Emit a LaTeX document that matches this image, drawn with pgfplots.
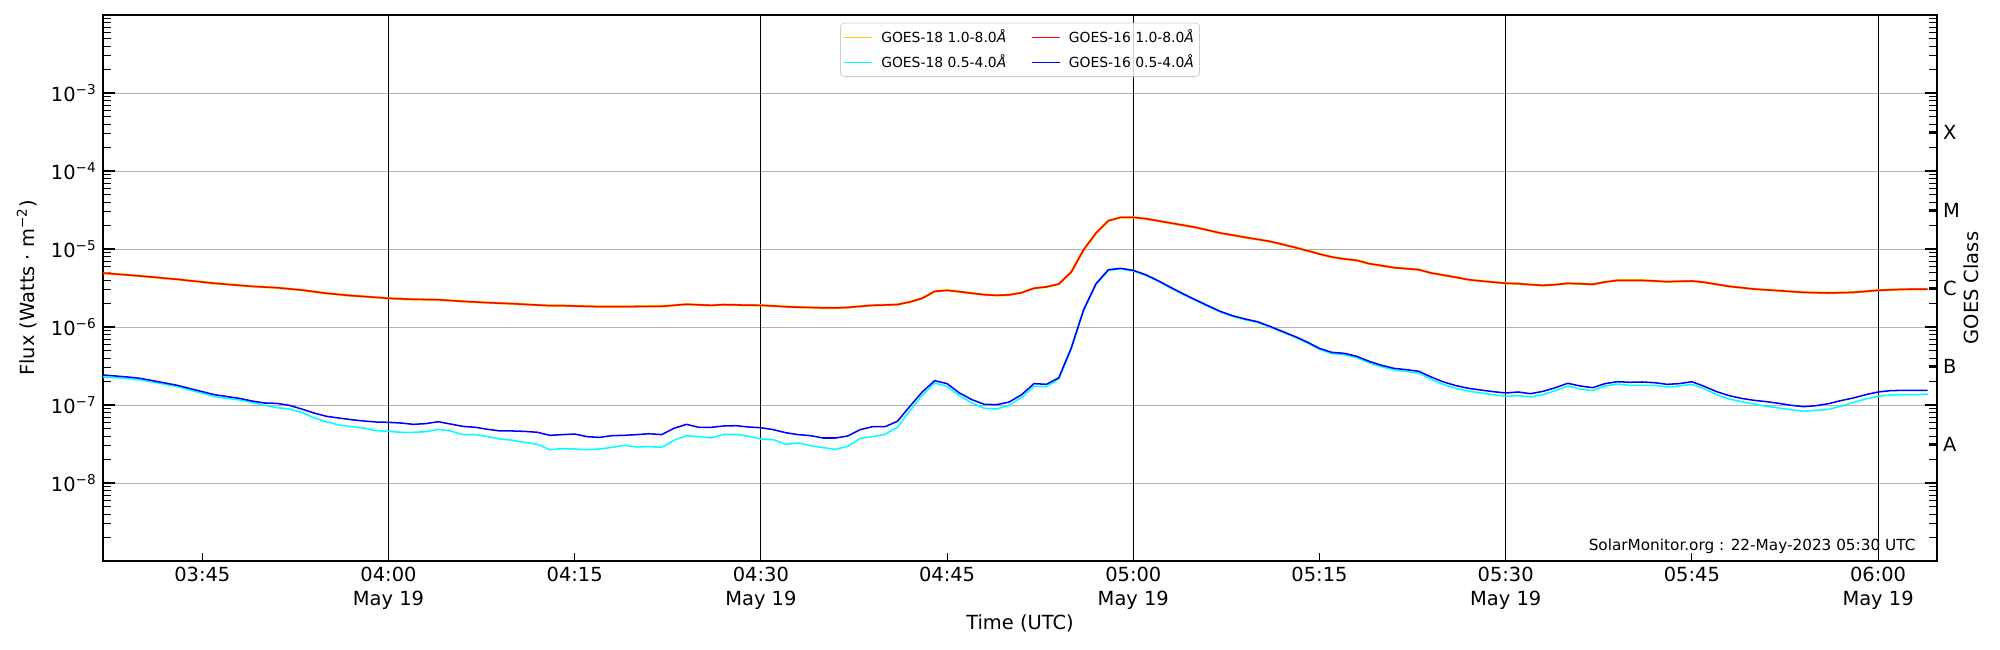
\documentclass[border=0pt]{standalone}
\usepackage{fontspec}
\setmainfont{DejaVu Sans}
\usepackage{pgfplots}
\pgfplotsset{compat=1.18}
\usepackage{pgfplotstable}
\definecolor{goesgold}{RGB}{255,200,0}
\definecolor{goesred}{RGB}{255,0,0}
\definecolor{goescyan}{RGB}{0,255,255}
\definecolor{goesblue}{RGB}{0,0,255}
\definecolor{gridgray}{RGB}{176,176,176}
\definecolor{legframe}{RGB}{204,204,204}

% m = minutes after 04:00 UTC (19 May 2023); values are log10(flux in W m^-2)
\pgfplotstableread{
m red cyan blue
-23 -5.308 -6.641 -6.615
-22 -5.321 -6.650 -6.628
-21 -5.333 -6.662 -6.641
-20 -5.346 -6.679 -6.658
-19 -5.360 -6.705 -6.688
-18 -5.375 -6.735 -6.718
-17 -5.389 -6.765 -6.748
-16 -5.406 -6.808 -6.789
-15 -5.423 -6.850 -6.829
-14 -5.440 -6.893 -6.868
-13 -5.453 -6.915 -6.892
-12 -5.466 -6.936 -6.915
-11 -5.479 -6.966 -6.949
-10 -5.488 -7.004 -6.974
-9 -5.496 -7.034 -6.979
-8 -5.511 -7.051 -7.004
-7 -5.526 -7.094 -7.051
-6 -5.547 -7.165 -7.103
-5 -5.568 -7.215 -7.145
-4 -5.583 -7.256 -7.167
-3 -5.598 -7.278 -7.188
-2 -5.609 -7.295 -7.205
-1 -5.620 -7.329 -7.218
0 -5.632 -7.338 -7.222
1 -5.639 -7.350 -7.231
2 -5.645 -7.350 -7.248
3 -5.648 -7.342 -7.239
4 -5.650 -7.312 -7.214
5 -5.661 -7.333 -7.244
6 -5.671 -7.380 -7.274
7 -5.680 -7.380 -7.286
8 -5.688 -7.406 -7.312
9 -5.695 -7.436 -7.333
10 -5.701 -7.453 -7.333
11 -5.710 -7.479 -7.338
12 -5.718 -7.504 -7.350
13 -5.726 -7.573 -7.389
14 -5.726 -7.560 -7.380
15 -5.731 -7.564 -7.372
16 -5.735 -7.573 -7.406
17 -5.739 -7.564 -7.415
18 -5.739 -7.543 -7.393
19 -5.738 -7.517 -7.389
20 -5.737 -7.538 -7.380
21 -5.736 -7.534 -7.368
22 -5.735 -7.543 -7.380
23 -5.722 -7.453 -7.299
24 -5.709 -7.393 -7.248
25 -5.716 -7.406 -7.286
26 -5.722 -7.423 -7.286
27 -5.714 -7.376 -7.269
28 -5.717 -7.376 -7.265
29 -5.720 -7.402 -7.282
30 -5.722 -7.436 -7.291
31 -5.730 -7.444 -7.316
32 -5.740 -7.504 -7.355
33 -5.746 -7.487 -7.380
34 -5.750 -7.521 -7.393
35 -5.754 -7.547 -7.423
36 -5.756 -7.568 -7.423
37 -5.749 -7.530 -7.397
38 -5.735 -7.427 -7.316
39 -5.722 -7.406 -7.278
40 -5.718 -7.376 -7.278
41 -5.712 -7.286 -7.209
42 -5.679 -7.073 -7.017
43 -5.632 -6.876 -6.833
44 -5.543 -6.718 -6.688
45 -5.530 -6.761 -6.726
46 -5.547 -6.880 -6.846
47 -5.567 -6.974 -6.932
48 -5.586 -7.043 -6.991
49 -5.594 -7.051 -6.996
50 -5.588 -7.004 -6.962
51 -5.560 -6.902 -6.868
52 -5.503 -6.761 -6.726
53 -5.486 -6.765 -6.735
54 -5.449 -6.667 -6.650
55 -5.295 -6.282 -6.269
56 -5.009 -5.791 -5.778
57 -4.795 -5.453 -5.444
58 -4.637 -5.274 -5.265
59 -4.594 -5.256 -5.248
60 -4.594 -5.282 -5.274
61 -4.611 -5.338 -5.329
62 -4.639 -5.415 -5.406
63 -4.667 -5.500 -5.491
64 -4.694 -5.582 -5.573
65 -4.722 -5.659 -5.650
66 -4.758 -5.735 -5.726
67 -4.795 -5.808 -5.799
68 -4.822 -5.864 -5.855
69 -4.850 -5.906 -5.897
70 -4.876 -5.941 -5.932
71 -4.902 -6.000 -5.991
72 -4.940 -6.065 -6.056
73 -4.979 -6.130 -6.120
74 -5.021 -6.203 -6.192
75 -5.064 -6.287 -6.274
76 -5.103 -6.342 -6.325
77 -5.128 -6.355 -6.338
78 -5.145 -6.393 -6.376
79 -5.188 -6.458 -6.440
80 -5.213 -6.510 -6.491
81 -5.239 -6.550 -6.530
82 -5.252 -6.570 -6.547
83 -5.265 -6.592 -6.568
84 -5.308 -6.670 -6.641
85 -5.335 -6.738 -6.705
86 -5.363 -6.788 -6.752
87 -5.393 -6.822 -6.786
88 -5.410 -6.845 -6.808
89 -5.425 -6.868 -6.829
90 -5.440 -6.889 -6.846
91 -5.444 -6.880 -6.833
92 -5.457 -6.897 -6.855
93 -5.466 -6.868 -6.825
94 -5.457 -6.816 -6.778
95 -5.440 -6.756 -6.722
96 -5.446 -6.795 -6.756
97 -5.453 -6.816 -6.778
98 -5.423 -6.756 -6.726
99 -5.402 -6.731 -6.701
100 -5.402 -6.748 -6.709
101 -5.402 -6.748 -6.705
102 -5.410 -6.748 -6.714
103 -5.419 -6.769 -6.735
104 -5.414 -6.756 -6.726
105 -5.410 -6.735 -6.701
106 -5.427 -6.791 -6.761
107 -5.453 -6.868 -6.829
108 -5.479 -6.923 -6.880
109 -5.496 -6.957 -6.915
110 -5.513 -6.987 -6.940
111 -5.524 -7.017 -6.957
112 -5.534 -7.038 -6.979
113 -5.545 -7.060 -7.004
114 -5.556 -7.081 -7.021
115 -5.560 -7.068 -7.009
116 -5.564 -7.056 -6.983
117 -5.560 -7.017 -6.944
118 -5.556 -6.966 -6.910
119 -5.543 -6.923 -6.868
120 -5.530 -6.889 -6.833
121 -5.523 -6.872 -6.816
122 -5.517 -6.868 -6.812
123 -5.515 -6.868 -6.812
124 -5.513 -6.859 -6.812
}\goes

\pgfplotsset{
  goesframe/.style={
    at={(74.16pt,64.08pt)}, anchor=south west,
    width=1320.5pt, height=393.1pt, scale only axis,
    xmin=-23, xmax=124.75, ymin=-9, ymax=-2,
    tick align=inside,
    every tick/.style={draw=black, line width=0.75pt},
    every tick label/.append style={font=\fontsize{14}{17}\selectfont},
  },
}

\begin{document}
\begin{tikzpicture}
\useasboundingbox (0,0) rectangle (1440pt,468pt);
% minor log ticks, both sides (no labels)
\begin{axis}[
  goesframe,
  axis line style={draw=none},
  xtick=\empty,
  ytick pos=both,
  major tick length=6pt,
  ytick={-8.69897,-8.52288,-8.39794,-8.30103,-8.22185,-8.15490,-8.09691,-8.04576,-7.69897,-7.52288,-7.39794,-7.30103,-7.22185,-7.15490,-7.09691,-7.04576,-6.69897,-6.52288,-6.39794,-6.30103,-6.22185,-6.15490,-6.09691,-6.04576,-5.69897,-5.52288,-5.39794,-5.30103,-5.22185,-5.15490,-5.09691,-5.04576,-4.69897,-4.52288,-4.39794,-4.30103,-4.22185,-4.15490,-4.09691,-4.04576,-3.69897,-3.52288,-3.39794,-3.30103,-3.22185,-3.15490,-3.09691,-3.04576,-2.69897,-2.52288,-2.39794,-2.30103,-2.22185,-2.15490,-2.09691,-2.04576},
  yticklabel={\relax},
  yticklabel style={inner sep=0pt},
]
\addplot[draw=none] coordinates {(0,-8)};
\end{axis}
\begin{axis}[
  goesframe,
  no markers,
  axis line style={line width=0.8pt},
  xtick pos=bottom, ytick pos=both, yticklabel pos=left,
  major tick length=8.4pt, minor tick length=6pt,
  xtick={-15,0,...,120},
  xticklabels={03:45,04:00\\May 19,04:15,04:30\\May 19,04:45,05:00\\May 19,05:15,05:30\\May 19,05:45,06:00\\May 19},
  major x tick style={draw=none},
  minor xtick={-15,0,...,120},
  extra x ticks={0,30,60,90,120},
  extra x tick labels={},
  extra x tick style={grid=major, major grid style={black, line width=0.75pt}},
  ytick={-8,...,-3},
  yticklabels={10\textsuperscript{−8},10\textsuperscript{−7},10\textsuperscript{−6},10\textsuperscript{−5},10\textsuperscript{−4},10\textsuperscript{−3}},
  ymajorgrids=true,
  major grid style={gridgray, line width=0.65pt},
  xticklabel style={align=center, anchor=north, inner sep=0pt, yshift=-4.1pt},
  yticklabel style={anchor=east, inner sep=0pt, xshift=-4.5pt},
  xlabel={Time (UTC)},
  xlabel style={at={(axis description cs:0.5,-0.1136)}, anchor=center, font=\fontsize{14}{17}\selectfont},
  ylabel={Flux (Watts · m\textsuperscript{−2})},
  ylabel style={at={(axis description cs:-0.0416,0.5)}, anchor=center, font=\fontsize{14}{17}\selectfont},
  legend columns=2,
  legend cell align=left,
  legend image code/.code={\draw[#1, line width=1pt] (0pt,0pt) -- (20pt,0pt); \path (24pt,0pt);},
  legend style={at={(axis description cs:0.5,0.986)}, anchor=north,
    draw=legframe, line width=0.6pt, rounded corners=2.5pt, fill=white, fill opacity=0.8, text opacity=1,
    font=\fontsize{10}{12}\selectfont,
    inner xsep=2pt, inner ysep=3pt, row sep=3pt,
    nodes={inner sep=2pt, text depth=0.15em},
    /tikz/every even column/.append style={column sep=16pt}},
]
\addplot[goesgold, line width=1.7pt] table[x=m, y=red] {\goes};
\addlegendentry{GOES-18 1.0-8.0\textit{Å}}
\addplot[goesred, line width=1.1pt] table[x=m, y=red] {\goes};
\addlegendentry{GOES-16 1.0-8.0\textit{Å}}
\addplot[goescyan, line width=1.1pt] table[x=m, y=cyan] {\goes};
\addlegendentry{GOES-18 0.5-4.0\textit{Å}}
\addplot[goesblue, line width=1.1pt] table[x=m, y=blue] {\goes};
\addlegendentry{GOES-16 0.5-4.0\textit{Å}}
\node[anchor=east, inner sep=0pt, font=\fontsize{11}{13}\selectfont] at (rel axis cs:0.98838,0.0275) {SolarMonitor.org : 22-May-2023 05:30 UTC};
\end{axis}
% GOES class labels on the right
\begin{axis}[
  goesframe,
  axis line style={draw=none},
  xtick=\empty,
  ytick pos=right, yticklabel pos=right,
  major tick length=6pt,
  ytick={-7.5,-6.5,-5.5,-4.5,-3.5},
  yticklabels={A,B,C,M,X},
  yticklabel style={anchor=west, inner sep=0pt, xshift=4.1pt},
  ylabel={GOES Class},
  ylabel style={at={(axis description cs:1.0189,0.5)}, anchor=center, font=\fontsize{14}{17}\selectfont},
]
\addplot[draw=none] coordinates {(0,-8)};
\end{axis}
\end{tikzpicture}
\end{document}
